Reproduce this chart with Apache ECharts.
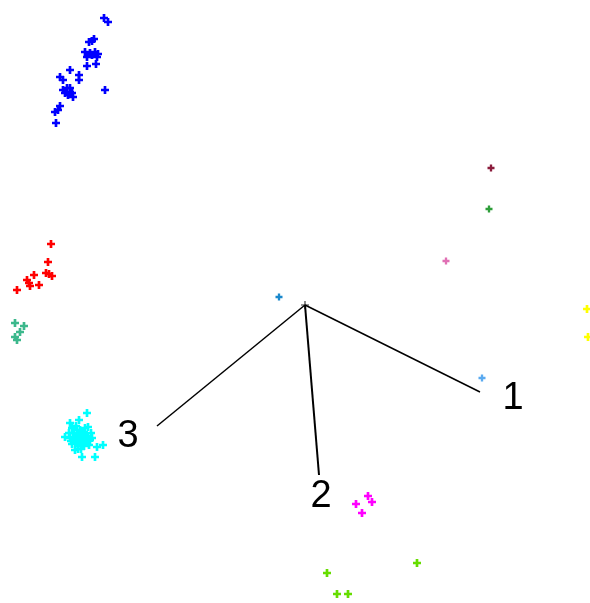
<!DOCTYPE html>
<html>
<head>
<meta charset="utf-8">
<script src="https://cdn.jsdelivr.net/npm/echarts@6/dist/echarts.min.js"></script>
<style>
  html, body { margin: 0; padding: 0; background: #fff; }
  #chart { width: 590px; height: 603px; }
</style>
</head>
<body>
<div id="chart"></div>
<script>
// Projection plane: x grows to the right, y grows downwards.
const blueGroup = [
  [104,18],[108,22],[92,41],[94,39],[89,42],[85,52],[90,53],[95,52],[98,54],[87,57],[92,55],[97,57],
  [87,66],[96,64],[70,70],[79,75],[79,80],[60,77],[63,80],[63,90],[67,88],[70,92],[65,93],[68,95],
  [72,93],[73,97],[70,88],[105,90],[60,106],[58,110],[55,112],[56,123]
];
const redGroup = [
  [51,244],[48,262],[46,273],[49,274],[52,276],[34,275],[27,280],[29,283],[30,286],[39,285],[17,290]
];
const tealGroup = [[15,323],[24,326],[20,332],[15,337],[17,340]];
const cyanGroup = [
  [87,413],[79,420],[70,423],[88,427],[65,437],[103,445],[97,447],[82,457],[95,457],
  [72,428],[76,426],[80,430],[84,432],[74,433],[78,435],[83,437],[88,436],[70,438],[75,440],
  [80,442],[86,441],[90,440],[72,444],[78,446],[84,446],[89,445],[75,450],[81,449],[69,433],
  [91,433],[85,428],[77,430],[81,434],[86,437],[73,437],[79,439],[84,440],[76,443],[82,445],
  [87,443],[78,449],[92,438],[71,441]
];
const maroonGroup = [[491,168]];
const greenGroup = [[489,209]];
const pinkGroup = [[446,261]];
const yellowGroup = [[587,309],[588,337]];
const steelGroup = [[279,297]];
const skyGroup = [[482,378]];
const magentaGroup = [[356,504],[368,496],[372,502],[362,513]];
const limeGroup = [[327,573],[337,594],[348,594],[417,563]];

// Axis vectors drawn from a common origin
const origin = [305, 305];
const axisEnds = [[480, 392], [319, 475], [157, 426]];
const axisNames = ['1', '2', '3'];
const axisLabelAt = [[513, 399], [321, 497], [128, 437]];

const plus = 'path://M3,0H6V3H9V6H6V9H3V6H0V3H3Z';
const thinPlus = 'path://M3,0H4V3H7V4H4V7H3V4H0V3H3Z';

function dots(data, color, size) {
  return {
    type: 'scatter', data: data, symbol: plus, symbolSize: size || 8,
    itemStyle: { color: color, opacity: 1 }, silent: true, z: 3
  };
}

const series = [
  dots(blueGroup, '#0000ff'),
  dots(redGroup, '#ff0000'),
  dots(tealGroup, '#3cb88c'),
  dots(cyanGroup, '#00ffff'),
  dots(maroonGroup, '#8b1c3c', 7),
  dots(greenGroup, '#2e9e3a', 7),
  dots(pinkGroup, '#e070b4', 7),
  dots(yellowGroup, '#ffff00'),
  dots(steelGroup, '#1a88cc', 7),
  dots(skyGroup, '#5aaaf0', 7),
  dots(magentaGroup, '#ff00ff'),
  dots(limeGroup, '#66dd00')
];

axisEnds.forEach(function (end, i) {
  series.push({
    type: 'line', data: [origin, end], symbol: 'none', silent: true,
    lineStyle: { color: '#000', width: i === 1 ? 2 : 1.5 }, z: 2
  });
});

series.push({
  type: 'scatter', data: [origin], symbol: thinPlus, symbolSize: 8,
  itemStyle: { color: '#000' }, silent: true, z: 2
});

series.push({
  type: 'scatter', silent: true, symbolSize: 0, z: 4,
  itemStyle: { color: '#000', opacity: 1 },
  data: axisLabelAt.map(function (p, i) { return { value: p, name: axisNames[i] }; }),
  label: {
    show: true, position: 'inside', formatter: '{b}',
    fontFamily: 'Liberation Sans', fontSize: 38, color: '#000', opacity: 1
  }
});

const chart = echarts.init(document.getElementById('chart'), null, { renderer: 'canvas' });
chart.setOption({
  backgroundColor: '#ffffff',
  animation: false,
  grid: { left: 0, right: 0, top: 0, bottom: 0 },
  xAxis: { type: 'value', min: 0, max: 590, show: false },
  yAxis: { type: 'value', min: 0, max: 603, inverse: true, show: false },
  series: series
});
</script>
</body>
</html>
